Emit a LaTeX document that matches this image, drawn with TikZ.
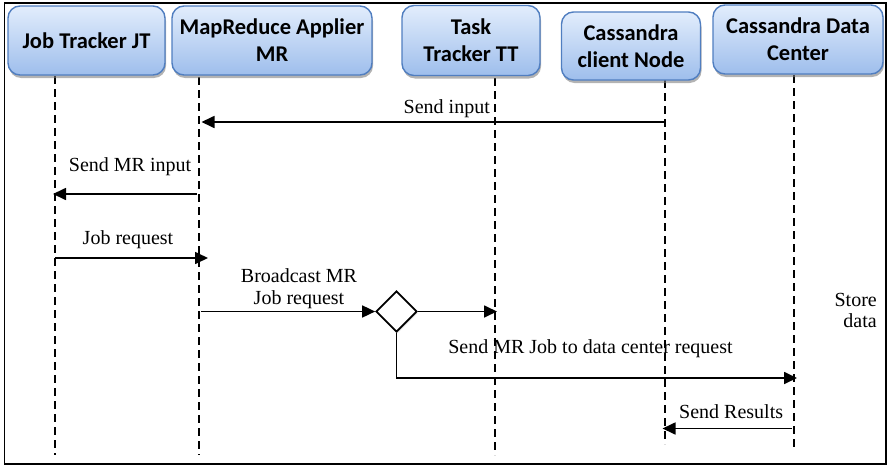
\documentclass[tikz,border=0pt]{standalone}
\usepackage{fontspec}
\setmainfont{Liberation Serif}
\newfontfamily\boxfont{Carlito}
\usetikzlibrary{arrows.meta,shapes.geometric,shadows}
\definecolor{boxtop}{RGB}{226,237,252}
\definecolor{boxbot}{RGB}{158,190,236}
\definecolor{boxline}{RGB}{80,126,192}
\tikzset{
  actor/.style={rectangle, rounded corners=12pt, draw=boxline, line width=1.4pt,
    top color=boxtop, bottom color=boxbot, inner sep=0pt, align=center,
    font=\boxfont\bfseries\fontsize{22.5}{27}\selectfont,
    drop shadow={shadow xshift=1pt, shadow yshift=-3pt, fill=black!50, opacity=0.6}},
  life/.style={line width=1.8pt, dash pattern=on 8pt off 5pt},
  msg/.style={line width=1.7pt, -{Triangle[length=13pt,width=12pt]}},
  lbl/.style={font=\fontsize{20}{22}\selectfont, inner sep=0pt, align=center},
  decide/.style={diamond, draw, line width=1.7pt, fill=white, minimum width=41pt,
    minimum height=41pt, inner sep=0pt,
    drop shadow={shadow xshift=1pt, shadow yshift=-1.5pt, fill=black!30, opacity=0.5}}
}
\begin{document}
\begin{tikzpicture}[x=1pt,y=-1pt]
\useasboundingbox (0,0) rectangle (889,466);
\draw[line width=1.6pt] (4.5,3) rectangle (886,464);

% lifelines
\coordinate (jtT) at (55,76);   \coordinate (jtE) at (55,455);
\coordinate (mrT) at (199,77);  \coordinate (mrE) at (199,455);
\coordinate (ttT) at (495,78);  \coordinate (ttE) at (495,455);
\coordinate (cnT) at (665,80);  \coordinate (cnE) at (665,444);
\coordinate (dcT) at (794,75);  \coordinate (dcE) at (794,451);
\draw[life] (jtT) -- (jtE);
\draw[life] (mrT) -- (mrE);
\draw[life] (ttT) -- (ttE);
\draw[life] (cnT) -- (cnE);
\draw[life] (dcT) -- (dcE);

% actors
\node[actor, minimum width=157pt, minimum height=69pt] (jt) at (86.5,40.5) {Job Tracker JT};
\node[actor, minimum width=200pt, minimum height=69pt] (mr) at (272,40.5) {MapReduce Applier\\MR};
\node[actor, minimum width=138pt, minimum height=70pt] (tt) at (471,40.5) {Task\\Tracker TT};
\node[actor, minimum width=139pt, minimum height=68pt] (cn) at (631,46) {Cassandra\\client Node};
\node[actor, minimum width=170pt, minimum height=69pt] (dc) at (798,39.5) {Cassandra Data\\Center};

% message endpoints
\coordinate (m1s) at (665,122);   \coordinate (m1e) at (201.5,122);
\coordinate (m2s) at (197,194);   \coordinate (m2e) at (53,194);
\coordinate (m3s) at (55,258);    \coordinate (m3e) at (208,258);
\coordinate (m4s) at (201,311.5);
\coordinate (m5e) at (497,311.5);
\coordinate (m6e) at (797,378);
\coordinate (m7s) at (792,428.5); \coordinate (m7e) at (662.5,428.5);

\node[decide] (dia) at (396.5,311.5) {};

\draw[msg] (m1s) -- (m1e);
\draw[msg] (m2s) -- (m2e);
\draw[msg] (m3s) -- (m3e);
\draw[msg] (m4s) -- (dia.west);
\draw[msg] (dia.east) -- (m5e);
\draw[msg] (dia.south) |- (m6e);
\draw[msg] (m7s) -- (m7e);

% labels
\node[lbl, anchor=base east] (l1) at (490,113) {Send input};
\node[lbl, anchor=base] (l2) at (130,171.5) {Send MR input};
\node[lbl, anchor=base] (l3) at (128,244) {Job request};
\node[lbl, anchor=base] (l4a) at (299,282) {Broadcast MR};
\node[lbl, anchor=base] (l4b) at (299,304) {Job request};
\node[lbl, anchor=base] (l6) at (590.5,353) {Send MR Job to data center request};
\node[lbl, anchor=base west] (l7) at (679,418) {Send Results};
\node[lbl, anchor=base east] (l8a) at (877,306.5) {Store};
\node[lbl, anchor=base east] (l8b) at (877,327) {data};
\end{tikzpicture}
\end{document}
